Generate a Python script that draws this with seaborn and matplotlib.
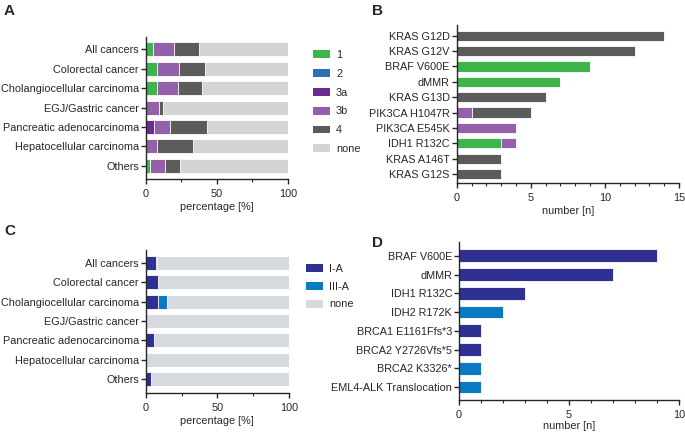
import matplotlib
matplotlib.use("Agg")
import matplotlib.pyplot as plt
from matplotlib.patches import Patch
from matplotlib.ticker import MultipleLocator
import numpy as np
import pandas as pd
import seaborn as sns

# ---- data ----
cancers = ["All cancers", "Colorectal cancer", "Cholangiocellular carcinoma",
           "EGJ/Gastric cancer", "Pancreatic adenocarcinoma",
           "Hepatocellular carcinoma", "Others"]

# panel A: percentage per tier
tier_1 = [5.4, 7.7, 8.2, 0.0, 0.0, 0.0, 3.0]
tier_2 = [0.0, 0.0, 0.0, 0.0, 0.0, 0.0, 0.0]
tier_3a = [0.0, 0.0, 0.0, 0.0, 5.6, 0.0, 0.0]
tier_3b = [14.3, 16.0, 14.6, 9.4, 11.5, 8.0, 10.6]
tier_4 = [17.6, 18.3, 16.9, 3.0, 25.9, 25.1, 10.3]

# panel B: number of alterations per tier
genes_b = ["KRAS G12D", "KRAS G12V", "BRAF V600E", "dMMR", "KRAS G13D",
           "PIK3CA H1047R", "PIK3CA E545K", "IDH1 R132C", "KRAS A146T", "KRAS G12S"]
b_tier_1 = [0, 0, 9, 7, 0, 0, 0, 3, 0, 0]
b_tier_3b = [0, 0, 0, 0, 0, 1, 4, 1, 0, 0]
b_tier_4 = [14, 12, 0, 0, 6, 4, 0, 0, 3, 3]

# panel C: percentage per ESCAT level
esc_1a = [7.0, 8.4, 8.4, 0.0, 5.6, 0.0, 3.5]
esc_3a = [0.7, 0.0, 6.3, 0.0, 0.0, 0.0, 0.0]

# panel D
genes_d = ["BRAF V600E", "dMMR", "IDH1 R132C", "IDH2 R172K", "BRCA1 E1161Ffs*3",
           "BRCA2 Y2726Vfs*5", "BRCA2 K3326*", "EML4-ALK Translocation"]
d_counts = [9, 7, 3, 2, 1, 1, 1, 1]
d_level = ["I-A", "I-A", "I-A", "III-A", "I-A", "I-A", "III-A", "III-A"]

tier_colors = {"1": "#3db54a", "2": "#2f6db5", "3a": "#692c91", "3b": "#9460aa",
               "4": "#5b5b5b", "none": "#d4d4d4"}
esc_colors = {"I-A": "#2e3192", "III-A": "#0a7bc2", "none": "#d6d9de"}

FS = 7.8
sns.set_theme(style="ticks")
plt.rcParams["font.family"] = ["Liberation Sans", "DejaVu Sans"]
plt.rcParams["font.size"] = FS
plt.rcParams["axes.linewidth"] = 1.0
plt.rcParams["xtick.major.width"] = 1.0
plt.rcParams["ytick.major.width"] = 1.0
plt.rcParams["xtick.major.size"] = 3.5
plt.rcParams["ytick.major.size"] = 3.5
plt.rcParams["xtick.minor.size"] = 2.5
plt.rcParams["xtick.minor.width"] = 0.8
plt.rcParams["xtick.labelsize"] = FS
plt.rcParams["ytick.labelsize"] = FS
plt.rcParams["axes.labelsize"] = FS

fig = plt.figure(figsize=(6.85, 4.33), dpi=100)
W, H = 685, 433


def add_ax(left, right, top, bottom):
    return fig.add_axes([left / W, 1 - bottom / H, (right - left) / W, (bottom - top) / H])


def stacked(ax, cats, parts, colors, width):
    # draw cumulative bars from the back to the front
    cum = np.cumsum(np.array(parts, dtype=float), axis=0)
    for vals, col in reversed(list(zip(cum, colors))):
        df = pd.DataFrame({"cat": cats, "val": vals})
        sns.barplot(data=df, x="val", y="cat", orient="h", color=col, width=width,
                    edgecolor="white", linewidth=0.6, saturation=1, ax=ax, order=cats)


def style(ax, xlabel, pad=2.5):
    sns.despine(ax=ax)
    ax.set_ylabel("")
    ax.set_xlabel(xlabel, labelpad=pad)
    ax.tick_params(axis="y", length=3.5, pad=1.5)


# ---- A ----
axA = add_ax(145.7, 288, 37, 179)
none_a = [100 - sum(v) for v in zip(tier_1, tier_2, tier_3a, tier_3b, tier_4)]
stacked(axA, cancers, [tier_1, tier_2, tier_3a, tier_3b, tier_4, none_a],
        [tier_colors[k] for k in ["1", "2", "3a", "3b", "4", "none"]], 0.72)
axA.set_xlim(0, 100)
axA.set_ylim(6.67, -0.62)
axA.set_xticks([0, 50, 100])
axA.xaxis.set_minor_locator(MultipleLocator(25))
style(axA, "percentage [%]")
handles = [Patch(facecolor=c, edgecolor="none") for c in tier_colors.values()]
axA.legend(handles, list(tier_colors.keys()), loc="upper left",
           bbox_to_anchor=(303 / W, 1 - 40 / H), bbox_transform=fig.transFigure,
           frameon=False, handlelength=1.55, handleheight=0.75, labelspacing=0.82,
           handletextpad=0.6, fontsize=FS)

# ---- B ----
axB = add_ax(456.7, 679, 25, 183)
stacked(axB, genes_b, [b_tier_1, b_tier_3b, b_tier_4],
        [tier_colors["1"], tier_colors["3b"], tier_colors["4"]], 0.66)
axB.set_xlim(0, 15)
axB.set_ylim(9.59, -0.70)
axB.set_xticks([0, 5, 10, 15])
axB.xaxis.set_minor_locator(MultipleLocator(1))
style(axB, "number [n]")

# ---- C ----
axC = add_ax(145.7, 289, 250, 393)
none_c = [100 - a - b for a, b in zip(esc_1a, esc_3a)]
stacked(axC, cancers, [esc_1a, esc_3a, none_c],
        [esc_colors["I-A"], esc_colors["III-A"], esc_colors["none"]], 0.72)
axC.set_xlim(0, 100)
axC.set_ylim(6.70, -0.65)
axC.set_xticks([0, 50, 100])
axC.xaxis.set_minor_locator(MultipleLocator(25))
style(axC, "percentage [%]")
handles = [Patch(facecolor=c, edgecolor="none") for c in esc_colors.values()]
axC.legend(handles, list(esc_colors.keys()), loc="upper left",
           bbox_to_anchor=(296 / W, 1 - 254 / H), bbox_transform=fig.transFigure,
           frameon=False, handlelength=1.55, handleheight=0.75, labelspacing=0.72,
           handletextpad=0.6, fontsize=FS)

# ---- D ----
axD = add_ax(459, 679, 242, 400)
df_d = pd.DataFrame({"gene": genes_d, "n": d_counts, "level": d_level})
sns.barplot(data=df_d, x="n", y="gene", hue="level", orient="h", dodge=False,
            palette={"I-A": esc_colors["I-A"], "III-A": esc_colors["III-A"]},
            width=0.68, edgecolor="white", linewidth=0.6, saturation=1,
            legend=False, ax=axD, order=genes_d)
axD.set_xlim(0, 10)
axD.set_ylim(7.69, -0.74)
axD.set_xticks([0, 5, 10])
axD.xaxis.set_minor_locator(MultipleLocator(1))
style(axD, "number [n]", pad=1)

for lab, x, y in [("A", 4, 4), ("B", 372, 4), ("C", 4, 224), ("D", 372, 236)]:
    fig.text(x / W, 1 - y / H, lab, fontsize=11, fontweight="bold", va="top", ha="left")

fig.savefig("out.png", dpi=100)
